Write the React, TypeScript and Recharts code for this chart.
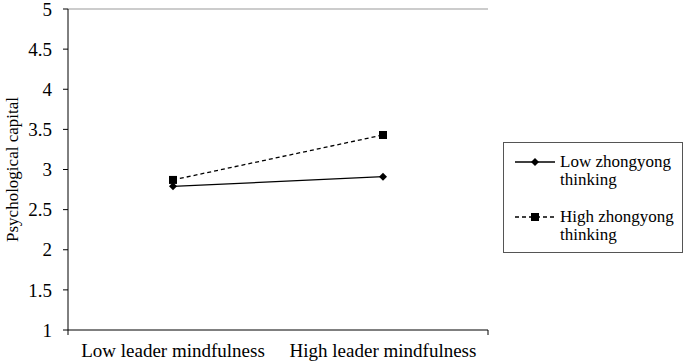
import { ComposedChart, Legend, Line, ReferenceLine, XAxis, YAxis } from 'recharts';

const categories = ['Low leader mindfulness', 'High leader mindfulness'];
const lowZhongyong = [2.79, 2.91];
const highZhongyong = [2.87, 3.43];
const yTicks = [1, 1.5, 2, 2.5, 3, 3.5, 4, 4.5, 5];
const seriesNames = ['Low zhongyong thinking', 'High zhongyong thinking'];

const data = categories.map((c, i) => ({ name: c, low: lowZhongyong[i], high: highZhongyong[i] }));

const font = "'Liberation Serif', 'Times New Roman', 'DejaVu Serif', serif";
const tickText = { fill: '#000', fontSize: 19, fontFamily: font };

function Diamond({ cx, cy }: any) {
  if (cx == null || cy == null) return null;
  const r = 4;
  return <path d={`M${cx},${cy - r}L${cx + r},${cy}L${cx},${cy + r}L${cx - r},${cy}Z`} fill="#000" />;
}

function Square({ cx, cy }: any) {
  if (cx == null || cy == null) return null;
  const r = 4;
  return <rect x={cx - r} y={cy - r} width={r * 2} height={r * 2} fill="#000" />;
}

function LegendBox() {
  const row = (label: string, dashed: boolean) => {
    const [a, b] = label.split(' thinking');
    return (
      <div style={{ display: 'flex', alignItems: 'flex-start', marginBottom: 19 }}>
        <svg width={50} height={18} style={{ flex: 'none', marginTop: 0 }}>
          <line x1={8} y1={9} x2={48} y2={9} stroke="#000" strokeWidth={1.3} strokeDasharray={dashed ? '4 3' : undefined} />
          {dashed ? <rect x={24} y={5} width={8} height={8} fill="#000" /> : <path d="M28,5L32,9L28,13L24,9Z" fill="#000" />}
        </svg>
        <div style={{ lineHeight: '18px', marginLeft: 3 }}>
          {a}
          <br />
          thinking{b}
        </div>
      </div>
    );
  };
  return (
    <div
      style={{
        boxSizing: 'border-box',
        width: 180,
        height: 111,
        border: '1px solid #555',
        padding: '10px 0 0 3px',
        fontFamily: font,
        fontSize: 17,
        color: '#000',
        textAlign: 'left',
        background: '#fff',
      }}
    >
      {row(seriesNames[0], false)}
      {row(seriesNames[1], true)}
    </div>
  );
}

export default function App() {
  return (
    <div style={{ position: 'absolute', left: 0, top: 0, background: '#fff', fontFamily: font }}>
      <ComposedChart width={685} height={364} data={data} margin={{ top: 9, right: 197, left: 0, bottom: 0 }}>
        <XAxis
          xAxisId={0}
          type="number"
          domain={[0, 2]}
          ticks={[0, 1, 2]}
          tickFormatter={() => ''}
          tickSize={5}
          height={5}
          stroke="#000"
        />
        <XAxis
          xAxisId={1}
          dataKey="name"
          scale="band"
          axisLine={false}
          tickLine={false}
          tickSize={0}
          tickMargin={9}
          height={29}
          tick={tickText}
          interval={0}
        />
        <YAxis
          domain={[1, 5]}
          ticks={yTicks}
          interval={0}
          width={68}
          tickSize={5}
          tickMargin={11}
          stroke="#000"
          tick={tickText}
          label={{
            content: ({ viewBox }: any) => (
              <text
                x={viewBox.x + 18}
                y={viewBox.y + viewBox.height / 2}
                transform={`rotate(-90 ${viewBox.x + 18} ${viewBox.y + viewBox.height / 2})`}
                textAnchor="middle"
                fontFamily={font}
                fontSize={17}
                fill="#000"
              >
                Psychological capital
              </text>
            ),
          }}
        />
        <ReferenceLine y={5} xAxisId={0} stroke="#999" />
        <ReferenceLine xAxisId={0} x={2} stroke="#999" />
        <Legend
          layout="horizontal"
          verticalAlign="middle"
          align="center"
          content={() => <LegendBox />}
          wrapperStyle={{ position: 'absolute', left: 503, top: 142, width: 180, height: 111 }}
        />
        <Line
          xAxisId={1}
          dataKey="low"
          name={seriesNames[0]}
          stroke="#000"
          strokeWidth={1.3}
          dot={<Diamond />}
          activeDot={false}
          isAnimationActive={false}
        />
        <Line
          xAxisId={1}
          dataKey="high"
          name={seriesNames[1]}
          stroke="#000"
          strokeWidth={1.3}
          strokeDasharray="4 3"
          dot={<Square />}
          activeDot={false}
          isAnimationActive={false}
        />
      </ComposedChart>
    </div>
  );
}
